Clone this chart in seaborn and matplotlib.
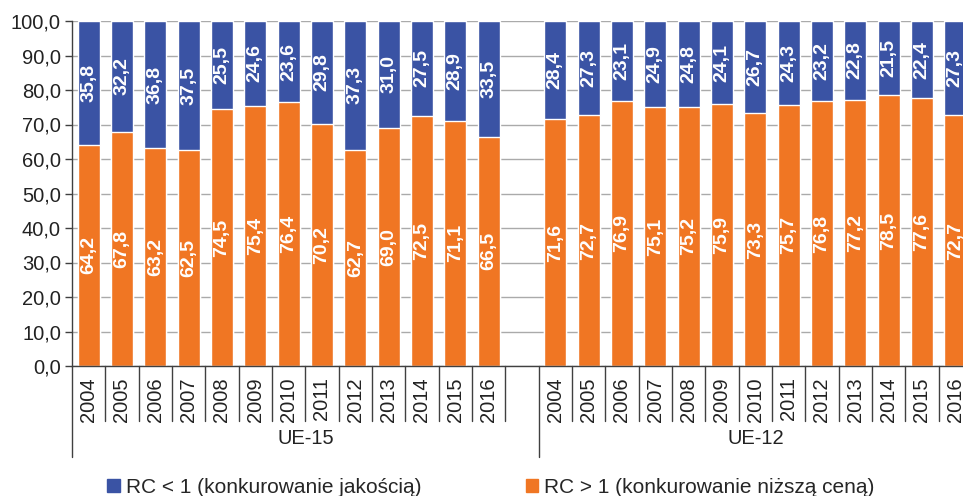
import numpy as np
import pandas as pd
import matplotlib.pyplot as plt
import matplotlib.transforms as mtransforms
from matplotlib.patches import Patch
import seaborn as sns

# data
years = [str(y) for y in range(2004, 2017)]
group_names = ["UE-15", "UE-12"]
ue15_price = [64.2, 67.8, 63.2, 62.5, 74.5, 75.4, 76.4, 70.2, 62.7, 69.0, 72.5, 71.1, 66.5]
ue15_quality = [35.8, 32.2, 36.8, 37.5, 25.5, 24.6, 23.6, 29.8, 37.3, 31.0, 27.5, 28.9, 33.5]
ue12_price = [71.6, 72.7, 76.9, 75.1, 75.2, 75.9, 73.3, 75.7, 76.8, 77.2, 78.5, 77.6, 72.7]
ue12_quality = [28.4, 27.3, 23.1, 24.9, 24.8, 24.1, 26.7, 24.3, 23.2, 22.8, 21.5, 22.4, 27.3]
legend_labels = ["RC < 1 (konkurowanie jakością)", "RC > 1 (konkurowanie niższą ceną)"]

blue = "#3A53A4"
orange = "#F07623"
dark = "#404040"

sns.set_theme(style="white")
plt.rcParams['font.family'] = ['Liberation Sans', 'DejaVu Sans']


def fmt(v):
    return f"{v:.1f}".replace(".", ",")


# 13 years, one empty slot, 13 years
rows = []
for i, y in enumerate(years):
    rows.append(("UE-15", y, i, ue15_price[i], ue15_quality[i]))
for i, y in enumerate(years):
    rows.append(("UE-12", y, i + 14, ue12_price[i], ue12_quality[i]))
df = pd.DataFrame(rows, columns=["group", "year", "pos", "price", "quality"])
df["total"] = df["price"] + df["quality"]

fig = plt.figure(figsize=(9.63, 4.96), dpi=100)
ax = fig.add_axes([72 / 963, 1 - 366 / 496, 900 / 963, 345 / 496])

# stacked bars: full height in blue, orange part drawn over it
sns.barplot(data=df, x="pos", y="total", color=blue, native_scale=True, width=0.66,
            saturation=1, errorbar=None, ax=ax)
sns.barplot(data=df, x="pos", y="price", color=orange, native_scale=True, width=0.66,
            saturation=1, errorbar=None, ax=ax)

# value labels
for _, r in df.iterrows():
    ax.text(r["pos"], r["price"] / 2, fmt(r["price"]), rotation=90, ha="center", va="center",
            color="white", fontweight="bold", fontsize=14)
    ax.text(r["pos"], r["price"] + r["quality"] / 2, fmt(r["quality"]), rotation=90,
            ha="center", va="center", color="white", fontweight="bold", fontsize=14)

ax.set_xlim(-0.5, 26.5)
ax.set_ylim(0, 100)
ax.set_yticks(np.arange(0, 101, 10))
ax.set_yticklabels([fmt(v) for v in np.arange(0, 101, 10)], fontsize=14.5, color="#222222")
ax.set_xticks(df["pos"])
ax.set_xticklabels(df["year"], rotation=90, fontsize=14.5, color="#222222")
ax.tick_params(axis="x", length=0, pad=8)
ax.tick_params(axis="y", length=5, width=1, color=dark, direction="out", left=True, pad=3)
ax.set_xlabel("")
ax.set_ylabel("")

ax.yaxis.grid(True, color="#AAAAAA", lw=1)
ax.set_axisbelow(True)
sns.despine(ax=ax, top=True, right=True)
for s in ["left", "bottom"]:
    ax.spines[s].set_color(dark)
    ax.spines[s].set_linewidth(1)

# category separators and group separators below the axis
trans = mtransforms.blended_transform_factory(ax.transData, ax.transAxes)
for k in range(1, 28):
    x = k - 0.5
    low = -0.264 if k in (14, 27) else -0.159
    ax.plot([x, x], [0, low], transform=trans, color=dark, lw=1, clip_on=False)
ax.plot([-0.5, -0.5], [0, -0.264], transform=trans, color=dark, lw=1, clip_on=False)

ax.text(6.5, -0.209, group_names[0], transform=trans, ha="center", va="center",
        fontsize=14.5, color="#222222")
ax.text(20, -0.209, group_names[1], transform=trans, ha="center", va="center",
        fontsize=14.5, color="#222222")

handles = [Patch(color=blue, label=legend_labels[0]), Patch(color=orange, label=legend_labels[1])]
fig.legend(handles=handles, loc="center", bbox_to_anchor=(491 / 963, 0.018), ncol=2,
           frameon=False, fontsize=15, handlelength=0.6, handleheight=0.6,
           handletextpad=0.3, columnspacing=5.0)

fig.savefig("out.png", dpi=100)
